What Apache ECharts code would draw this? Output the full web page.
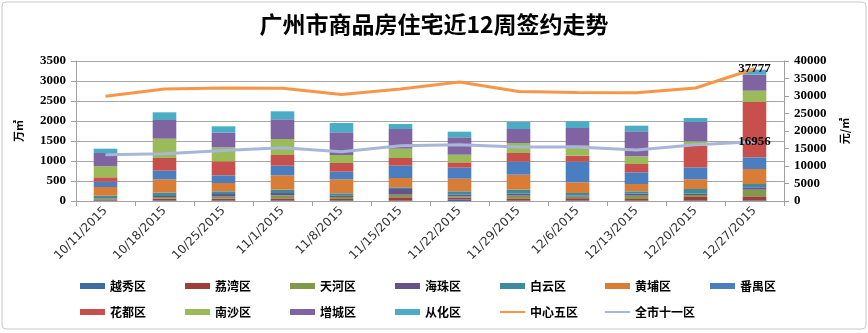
<!DOCTYPE html>
<html><head><meta charset="utf-8">
<script src="https://cdn.jsdelivr.net/npm/echarts@6/dist/echarts.min.js"></script>
<style>html,body{margin:0;padding:0;background:#fff}#c{width:868px;height:333px}</style>
</head><body><div id="c"></div>
<script>
var categories = ['10/11/2015','10/18/2015','10/25/2015','11/1/2015','11/8/2015','11/15/2015','11/22/2015','11/29/2015','12/6/2015','12/13/2015','12/20/2015','12/27/2015'];
var yuexiu  = [15,15,15,15,15,10,40,10,15,10,15,15];
var liwan   = [25,45,45,50,35,82,45,55,55,40,85,102];
var tianhe  = [30,40,50,75,50,66,30,70,40,83,50,166];
var haizhu  = [5,25,65,60,30,142,45,48,23,50,33,59];
var baiyun  = [58,83,67,83,62,42,82,100,67,59,117,83];
var huangpu = [217,334,208,359,350,233,316,375,267,183,242,375];
var panyu   = [133,216,192,241,191,308,275,325,516,292,300,292];
var huadu   = [109,317,350,267,217,192,134,217,150,208,541,1383];
var nansha  = [275,483,350,400,200,233,191,250,250,192,109,283];
var zengcheng = [333,467,366,492,567,492,434,350,442,625,483,400];
var conghua = [108,192,159,200,233,125,141,175,167,141,100,125];
var center5 = [29900,32000,32300,32200,30400,32000,34000,31300,31000,30900,32300,37777];
var city11  = [13200,13500,14400,15200,14100,15800,16100,15400,15400,14600,16100,16956];
var leftTicks = {min:0, max:3500, interval:500};
var rightTicks = {min:0, max:40000, interval:5000};

var barNames = ['越秀区','荔湾区','天河区','海珠区','白云区','黄埔区','番禺区','花都区','南沙区','增城区','从化区'];
var barData = [yuexiu,liwan,tianhe,haizhu,baiyun,huangpu,panyu,huadu,nansha,zengcheng,conghua];
var barColors = ['#3F6BA0','#9E3D3A','#7F9A48','#67538A','#3B8BA3','#D97C35','#4A7EC1','#C8504C','#9BBB59','#8064A2','#4BACC6'];

var series = barNames.map(function(n,i){
  return {name:n, type:'bar', stack:'s', data:barData[i], barWidth:'40%',
    itemStyle:{color:barColors[i]}, yAxisIndex:0};
});
var lastLabel = function(p){ return p.dataIndex === categories.length-1 ? String(p.value) : ''; };
var lineLabel = {show:true, position:'inside', formatter:lastLabel, color:'#000', fontWeight:'bold', fontSize:13, fontFamily:'Liberation Serif'};
series.push({name:'中心五区', type:'line', yAxisIndex:1, data:center5, symbol:'circle', symbolSize:0.1, showSymbol:true,
  lineStyle:{color:'#F79646', width:3}, itemStyle:{color:'#F79646'}, label:lineLabel, z:5});
series.push({name:'全市十一区', type:'line', yAxisIndex:1, data:city11, symbol:'circle', symbolSize:0.1, showSymbol:true,
  lineStyle:{color:'#A8B6DA', width:3}, itemStyle:{color:'#A8B6DA'}, label:lineLabel, z:5});

var allNames = barNames.concat(['中心五区','全市十一区']);
var legends = allNames.map(function(n,i){
  var row = i < 7 ? 0 : 1;
  var col = i < 7 ? i : i - 7;
  var isLine = i >= 11;
  return {data:[{name:n, icon:'rect'}], left:80 + 105*col, top: row===0 ? 280 : 306, padding:0,
    itemWidth:25, itemHeight: isLine ? 2 : 6, itemGap:0,
    textStyle:{fontSize:12, fontWeight:'bold', color:'#000', fontFamily:'Noto Sans CJK SC'}};
});

var chart = echarts.init(document.getElementById('c'));
chart.setOption({
  animation:false,
  title:{text:'广州市商品房住宅近12周签约走势', left:'center', top:8,
    textStyle:{fontSize:23, fontWeight:'bold', color:'#000', fontFamily:'Noto Sans CJK SC'}},
  legend: legends,
  graphic:[{type:'rect', shape:{x:2,y:2,width:864,height:327,r:4}, style:{fill:'none', stroke:'#C8C8C8', lineWidth:1}, silent:true}],
  grid:{left:76, right:84, top:61, bottom:132},
  xAxis:{type:'category', data:categories, boundaryGap:true,
    axisLine:{lineStyle:{color:'#A0A0A0'}},
    axisTick:{show:true, length:5, lineStyle:{color:'#A0A0A0'}},
    axisLabel:{rotate:45, fontSize:12, color:'#333', fontFamily:'DejaVu Sans', margin:8}},
  yAxis:[
    {type:'value', min:leftTicks.min, max:leftTicks.max, interval:leftTicks.interval,
     name:'万㎡', nameLocation:'middle', nameRotate:90, nameGap:52,
     nameTextStyle:{fontSize:11, fontWeight:'bold', color:'#000', fontFamily:'Noto Sans CJK SC'},
     axisLine:{show:true, lineStyle:{color:'#A0A0A0'}},
     axisTick:{show:true, length:5, lineStyle:{color:'#A0A0A0'}},
     splitLine:{show:true, lineStyle:{color:'#A6A6A6'}},
     axisLabel:{formatter:function(v){return String(v);}, fontSize:13, fontWeight:'bold', color:'#000', fontFamily:'Liberation Serif', margin:10}},
    {type:'value', min:rightTicks.min, max:rightTicks.max, interval:rightTicks.interval,
     name:'元/㎡', nameLocation:'middle', nameRotate:90, nameGap:55,
     nameTextStyle:{fontSize:11, fontWeight:'bold', color:'#000', fontFamily:'Noto Sans CJK SC'},
     axisLine:{show:true, lineStyle:{color:'#A0A0A0'}},
     axisTick:{show:true, length:5, lineStyle:{color:'#A0A0A0'}},
     splitLine:{show:false},
     axisLabel:{formatter:function(v){return String(v);}, fontSize:13, fontWeight:'bold', color:'#000', fontFamily:'Liberation Serif', margin:10}}
  ],
  series: series
});
</script></body></html>
